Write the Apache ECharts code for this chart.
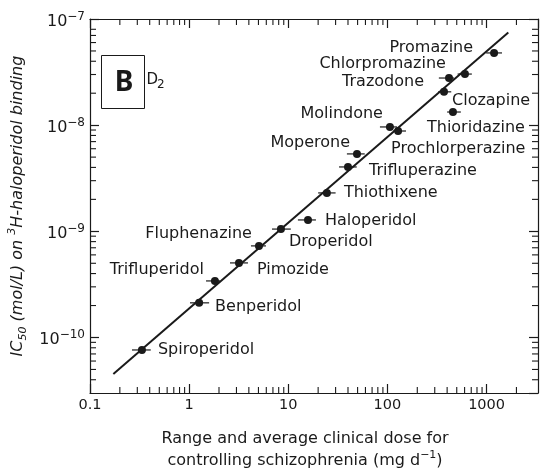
<!DOCTYPE html>
<html>
<head>
<meta charset="utf-8">
<script src="https://cdn.jsdelivr.net/npm/echarts@6/dist/echarts.min.js"></script>
<style>
  html, body { margin: 0; padding: 0; background: #fff; }
  #main { width: 541px; height: 468px; }
</style>
</head>
<body>
<div id="main"></div>
<script>
  // values: clinical dose (mg/day) and D2 IC50 (mol/L)
  const drugs = ['Promazine', 'Chlorpromazine', 'Trazodone', 'Clozapine', 'Thioridazine',
    'Molindone', 'Prochlorperazine', 'Moperone', 'Trifluperazine', 'Thiothixene',
    'Haloperidol', 'Droperidol', 'Fluphenazine', 'Pimozide', 'Trifluperidol',
    'Benperidol', 'Spiroperidol']
  const dose = [1190, 605, 418, 372, 458, 106, 128, 49.3, 40, 24.5, 15.8, 8.43, 5.06, 3.18, 1.82, 1.26, 0.334]
  const doseLow = [990, 510, 330, 325, 400, 84, 114, 39, 32.5, 20, 12.5, 6.85, 4.2, 2.58, 1.48, 1.02, 0.265]
  const doseHigh = [1430, 710, 470, 440, 550, 125, 154, 59, 49, 30, 19, 10.6, 5.95, 3.92, 2.05, 1.59, 0.41]
  const ic50 = [4.79e-8, 3.03e-8, 2.78e-8, 2.06e-8, 1.33e-8, 9.62e-9, 8.81e-9, 5.36e-9, 4.04e-9, 2.3e-9,
    1.28e-9, 1.05e-9, 7.29e-10, 5.04e-10, 3.41e-10, 2.12e-10, 7.63e-11]

  // regression line end points
  const fitDose = [0.172, 1656]
  const fitIc50 = [4.54e-11, 7.46e-8]

  // axis ranges
  const xRange = [0.1, 3300]
  const yRange = [3e-11, 1e-7]
  const minorMantissa = [2, 3, 4, 5, 6, 7, 8, 9]

  const ink = '#1a1a1a'
  const font = 'DejaVu Sans'

  // where each name sits next to its point: side of the point, dx, dy (px)
  const labelPlace = {
    Promazine: ['L', -21, -5],
    Chlorpromazine: ['L', -19, -10],
    Trazodone: ['L', -25, 4],
    Clozapine: ['R', 8, 9],
    Thioridazine: ['R', -26, 16],
    Molindone: ['L', -7, -13],
    Prochlorperazine: ['R', -7, 18],
    Moperone: ['L', -7, -11],
    Trifluperazine: ['R', 21, 4],
    Thiothixene: ['R', 17, 0],
    Haloperidol: ['R', 17, 1],
    Droperidol: ['R', 8, 13],
    Fluphenazine: ['L', -7, -12],
    Pimozide: ['R', 18, 7],
    Trifluperidol: ['L', -11, -11],
    Benperidol: ['R', 16, 4],
    Spiroperidol: ['R', 16, 0],
  }

  function minorTicks(range) {
    let out = []
    let lo = Math.floor(Math.log10(range[0]))
    let hi = Math.ceil(Math.log10(range[1]))
    for (let e = lo; e < hi; e++) {
      minorMantissa.forEach(function (m) {
        let v = m * Math.pow(10, e)
        if (v > range[0] && v < range[1] * 0.9) out.push(v)
      })
    }
    return out
  }

  function logAxis(position, range, label) {
    return {
      type: 'log',
      position: position,
      min: range[0],
      max: range[1],
      axisLine: { show: true, onZero: false, lineStyle: { color: ink, width: 1.2 } },
      axisTick: { show: true, inside: true, length: 9, lineStyle: { color: ink, width: 1.2 } },
      splitLine: { show: false },
      axisLabel: label || { show: false },
    }
  }

  var chart = echarts.init(document.getElementById('main'))

  var xAxisBottom = logAxis('bottom', xRange, {
    margin: 5,
    fontFamily: font,
    fontSize: 14.5,
    color: ink,
    showMaxLabel: false,
    formatter: function (v) {
      return v < 1 ? v.toFixed(1) : String(Math.round(v))
    },
  })
  xAxisBottom.name = '{t|Range and average clinical dose for}\n{t|controlling schizophrenia (mg d}{s|−1}{t|)}'
  xAxisBottom.nameLocation = 'middle'
  xAxisBottom.nameGap = 35
  xAxisBottom.nameTextStyle = {
    padding: [0, 18, 0, 0],
    rich: {
      t: { fontFamily: font, fontSize: 16, lineHeight: 22, color: ink },
      s: { fontFamily: font, fontSize: 11, verticalAlign: 'top', color: ink },
    },
  }

  var yAxisLeft = logAxis('left', yRange, {
    margin: 5,
    showMinLabel: false,
    padding: [5, 0, 0, 0],
    formatter: function (v) {
      return '{b|10}{s|−' + Math.round(-Math.log10(v)) + '}'
    },
    rich: {
      b: { fontFamily: font, fontSize: 16, lineHeight: 22, color: ink },
      s: { fontFamily: font, fontSize: 12, verticalAlign: 'top', color: ink },
    },
  })
  yAxisLeft.name = '{i|IC}{d|50}{i| (mol/L) on }{u|3}{i|H-haloperidol binding}'
  yAxisLeft.nameLocation = 'middle'
  yAxisLeft.nameRotate = 90
  yAxisLeft.nameGap = 60
  yAxisLeft.nameTextStyle = {
    rich: {
      i: { fontFamily: font, fontStyle: 'italic', fontSize: 16, lineHeight: 22, color: ink },
      d: { fontFamily: font, fontStyle: 'italic', fontSize: 11, verticalAlign: 'bottom', color: ink },
      u: { fontFamily: font, fontStyle: 'italic', fontSize: 11, verticalAlign: 'top', color: ink },
    },
  }

  var tickData = minorTicks(xRange).map(function (v) { return [v, yRange[1], 0] })
    .concat(minorTicks(yRange).map(function (v) { return [xRange[1], v, 1] }))

  var option = {
    animation: false,
    backgroundColor: '#fff',
    grid: { left: 90, right: 3, top: 19, bottom: 75, outerBoundsMode: 'none' },
    xAxis: [xAxisBottom, logAxis('top', xRange)],
    yAxis: [yAxisLeft, logAxis('right', yRange)],
    graphic: [
      { type: 'rect', shape: { x: 101.5, y: 55.5, width: 43, height: 53 }, style: { fill: '#fff', stroke: ink, lineWidth: 1 } },
      { type: 'text', x: 124, y: 83, style: { text: 'B', font: 'bold 28px "Noto Sans"', fill: ink, align: 'center', verticalAlign: 'middle' } },
      { type: 'text', x: 146.5, y: 80, style: { text: 'D', font: '15px "DejaVu Sans"', fill: ink, align: 'left', verticalAlign: 'middle' } },
      { type: 'text', x: 157, y: 85, style: { text: '2', font: '12px "DejaVu Sans"', fill: ink, align: 'left', verticalAlign: 'middle' } },
    ],
    series: [
      {
        // minor log ticks on all four sides
        type: 'custom',
        silent: true,
        clip: false,
        data: tickData,
        renderItem: function (params, api) {
          var cs = params.coordSys
          var p = api.coord([api.value(0), api.value(1)])
          var len = 6
          var sty = { stroke: ink, lineWidth: 1.1 }
          if (api.value(2) === 0) {
            return {
              type: 'group',
              children: [
                { type: 'line', shape: { x1: p[0], y1: cs.y + cs.height, x2: p[0], y2: cs.y + cs.height - len }, style: sty },
                { type: 'line', shape: { x1: p[0], y1: cs.y, x2: p[0], y2: cs.y + len }, style: sty },
              ],
            }
          }
          return {
            type: 'group',
            children: [
              { type: 'line', shape: { x1: cs.x, y1: p[1], x2: cs.x + len, y2: p[1] }, style: sty },
              { type: 'line', shape: { x1: cs.x + cs.width, y1: p[1], x2: cs.x + cs.width - len, y2: p[1] }, style: sty },
            ],
          }
        },
      },
      {
        // dose range bars
        type: 'custom',
        silent: true,
        data: drugs.map(function (d, i) { return [doseLow[i], doseHigh[i], ic50[i]] }),
        encode: { x: [0, 1], y: 2 },
        renderItem: function (params, api) {
          var a = api.coord([api.value(0), api.value(2)])
          var b = api.coord([api.value(1), api.value(2)])
          return { type: 'line', shape: { x1: a[0], y1: a[1], x2: b[0], y2: b[1] }, style: { stroke: ink, lineWidth: 1.2 } }
        },
      },
      {
        type: 'line',
        silent: true,
        symbol: 'none',
        data: fitDose.map(function (x, i) { return [x, fitIc50[i]] }),
        lineStyle: { color: ink, width: 2 },
        z: 3,
      },
      {
        type: 'scatter',
        symbolSize: 8,
        itemStyle: { color: ink, opacity: 1 },
        z: 4,
        data: drugs.map(function (d, i) {
          var pl = labelPlace[d]
          return {
            name: d,
            value: [dose[i], ic50[i]],
            label: {
              show: true,
              position: 'inside',
              align: pl[0] === 'L' ? 'right' : 'left',
              verticalAlign: 'middle',
              offset: [pl[1], pl[2]],
              formatter: '{b}',
              color: ink,
              opacity: 1,
              fontFamily: font,
              fontSize: 16,
            },
          }
        }),
      },
    ],
  }

  chart.setOption(option)
</script>
</body>
</html>
